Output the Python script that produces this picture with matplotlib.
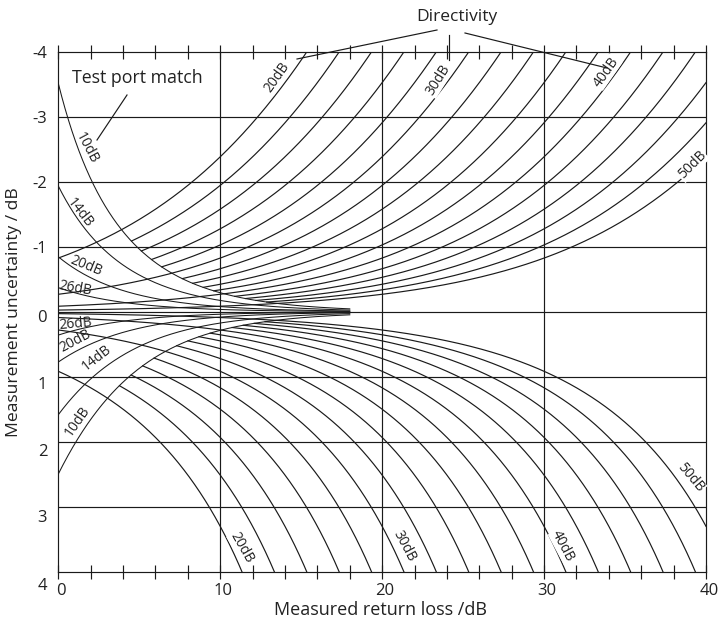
import numpy as np
import matplotlib
matplotlib.use("Agg")
import matplotlib.pyplot as plt
from matplotlib.transforms import ScaledTranslation
from matplotlib.lines import Line2D

# ---------------- data ----------------
directivity_db = [20, 22, 24, 26, 28, 30, 32, 34, 36, 38, 40, 42, 44, 46, 48, 50]
directivity_full_db = [20, 30, 40, 50]          # curves drawn from 0 dB return loss
port_match_db = [10, 14, 20, 26]
port_match_rho = [0.333, 0.200, 0.093, 0.042]   # reflection coefficient at 0 dB return loss
port_match_end_db = 18                          # port-match curves merge into 0 here
x_ticks = [0, 10, 20, 30, 40]
y_ticks = [-4, -3, -2, -1, 0, 1, 2, 3, 4]
y_tick_labels = ["-4", "-3", "-2", "-1", "0", "1", "2", "3", "4"]

# ---------------- style ----------------
FONT = ["Open Sans", "DejaVu Sans"]
plt.rcParams["font.family"] = FONT
INK = "#1a1a1a"
TXT = "#222222"
LW = 0.85

W, H = 720, 622
fig = plt.figure(figsize=(W / 100, H / 100), dpi=100)
L, R, T, B = 58.3, 706.0, 52.0, 571.7
ax = fig.add_axes([L / W, 1 - B / H, (R - L) / W, (B - T) / H])
ax.set_xlim(0, 40)
ax.set_ylim(4, -4)

def px2data(px, py):
    return (px - L) / (R - L) * 40.0, -4 + (py - T) / (B - T) * 8.0

# grid
for gx in [10, 20, 30]:
    ax.axvline(gx, color=INK, lw=LW, zorder=1)
for gy in [-3, -2, -1, 0, 1, 2, 3]:
    ax.axhline(gy, color=INK, lw=LW, zorder=1)

M = np.linspace(0, 40, 4001)
rho_m = 10 ** (-M / 20)

# test port match curves
pm_top = {}
pm_bot = {}
mask_pm = M <= port_match_end_db
for db, rs in zip(port_match_db, port_match_rho):
    e = rs * rho_m ** 2
    top = 20 * np.log10(1 - e)
    bot = 20 * np.log10(1 + e)
    pm_top[db] = top
    pm_bot[db] = bot
    ax.plot(M[mask_pm], top[mask_pm], color=INK, lw=0.75, zorder=2)
    ax.plot(M[mask_pm], bot[mask_pm], color=INK, lw=0.75, zorder=2)

bound_top = pm_top[port_match_db[0]]
bound_bot = pm_bot[port_match_db[0]]

# directivity curves
for D in directivity_db:
    r = 10 ** ((M - D) / 20)
    top = -20 * np.log10(1 + r)
    with np.errstate(invalid="ignore", divide="ignore"):
        bot = -20 * np.log10(np.where(1 - r > 1e-6, 1 - r, np.nan))
    if D in directivity_full_db:
        mt = np.ones_like(M, dtype=bool)
        mb = np.isfinite(bot)
    else:
        mt = top <= bound_top
        mb = np.isfinite(bot) & (bot >= bound_bot)
    ax.plot(M[mt], top[mt], color=INK, lw=LW, zorder=2)
    ax.plot(M[mb], bot[mb], color=INK, lw=LW, zorder=2)

# ticks
ax.set_xticks(x_ticks)
ax.set_xticks(np.arange(2, 40, 2), minor=True)
ax.set_xticklabels([str(v) for v in x_ticks])
ax.set_yticks(y_ticks)
ax.set_yticklabels(y_tick_labels)
ax.tick_params(axis="x", which="both", direction="inout", length=10, width=LW,
               color=INK, top=True, bottom=True, labelsize=12, labelcolor=TXT, pad=3)
ax.tick_params(axis="y", which="both", length=0, labelsize=12, labelcolor=TXT, pad=8)
for s in ax.spines.values():
    s.set_linewidth(LW)
    s.set_color(INK)

# small offsets of tick labels as in the original artwork
for lab in ax.get_xticklabels():
    lab.set_transform(lab.get_transform() + ScaledTranslation(3 / 100, 0, fig.dpi_scale_trans))
y_off = {"-4": 0, "-3": 0, "-2": 0, "-1": 0, "0": -4, "1": -6, "2": -8, "3": -9, "4": -12}
for lab, txt in zip(ax.get_yticklabels(), y_tick_labels):
    lab.set_transform(lab.get_transform() + ScaledTranslation(0, y_off[txt] / 100, fig.dpi_scale_trans))

def fp(px, py):
    return px / W, 1 - py / H

fig.text(*fp(380, 610), "Measured return loss /dB", ha="center", va="center", fontsize=13, color=TXT)
fig.text(*fp(14, 312), "Measurement uncertainty / dB", ha="center", va="center", rotation=90,
         fontsize=12.6, color=TXT)

# curve labels (pixel positions in the original, rotation in degrees)
dir_labels = [
    ("20dB", 277, 77, 55), ("30dB", 438, 80, 58), ("40dB", 606, 72, 55), ("50dB", 692, 165, 45),
    ("20dB", 242, 548, -60), ("30dB", 404, 546, -62), ("40dB", 563, 546, -62), ("50dB", 690, 478, -50),
]
for txt, px, py, rot in dir_labels:
    x, y = px2data(px, py)
    ax.text(x, y, txt, rotation=rot, ha="center", va="center", fontsize=10, color=TXT,
            rotation_mode="anchor", zorder=4,
            bbox=dict(boxstyle="square,pad=0.05", fc="white", ec="none"))

pm_labels = [
    ("10dB", 87, 148, -62), ("14dB", 80, 213, -52), ("20dB", 86, 266, -22), ("26dB", 75, 288, -10),
    ("26dB", 76, 324, 5), ("20dB", 75, 341, 28), ("14dB", 97, 358, 38), ("10dB", 77, 421, 55),
]
for txt, px, py, rot in pm_labels:
    x, y = px2data(px, py)
    ax.text(x, y, txt, rotation=rot, ha="center", va="center", fontsize=10, color=TXT,
            rotation_mode="anchor", zorder=4)

# annotations
fig.text(*fp(457, 17), "Directivity", ha="center", va="center", fontsize=12.5, color=TXT)
fig.text(*fp(137, 78), "Test port match", ha="center", va="center", fontsize=12.8, color=TXT)
for (x0, y0), (x1, y1) in [((437, 30), (297, 59)), ((449, 35), (449, 60)),
                           ((465, 33), (607, 68)), ((127, 95), (97, 140))]:
    a, b = fp(x0, y0)
    c, d = fp(x1, y1)
    fig.add_artist(Line2D([a, c], [b, d], transform=fig.transFigure, color=INK, lw=LW))

fig.savefig("out.png", dpi=100)
